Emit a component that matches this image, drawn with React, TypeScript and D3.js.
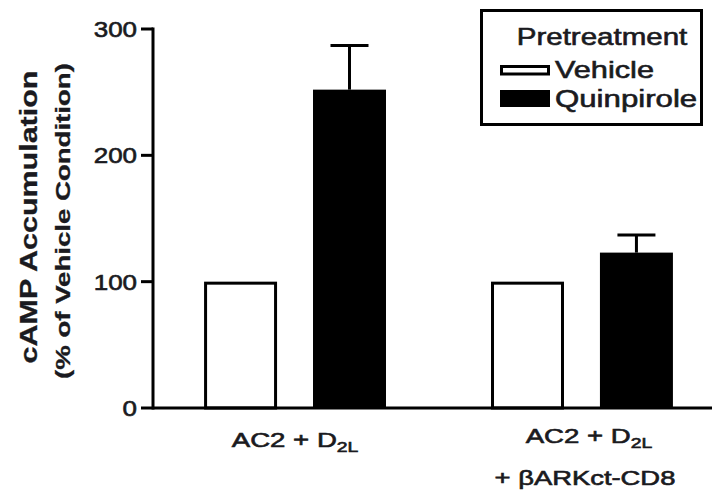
import React from "react";
import * as d3 from "d3";

const groups = ["AC2 + D2L", "AC2 + D2L + βARKct-CD8"];
const series = ["Vehicle", "Quinpirole"];
const vehicleMeans = [100, 100];
const vehicleErr = [0, 0];
const quinpiroleMeans = [252, 123];
const quinpiroleErr = [35, 14];
const yTicks = [0, 100, 200, 300];
const yLabel = "cAMP Accumulation";
const yLabel2 = "(% of Vehicle Condition)";
const legendTitle = "Pretreatment";

const W = 712;
const H = 493;
const FONT = "'Liberation Sans', Arial, Helvetica, sans-serif";

function SText(props: {
  x: number; y: number; sx?: number; rot?: number; size: number; anchor?: string;
  weight?: string | number; children: React.ReactNode; fill?: string; sw?: number;
}) {
  const { x, y, sx = 1.25, rot = 0, size, anchor = "start", weight = "normal", children, fill = "#1a1a20", sw = 0.6 } = props;
  return (
    <g transform={`translate(${x},${y}) rotate(${rot}) scale(${sx},1)`}>
      <text textAnchor={anchor as any} fontSize={size} fontFamily={FONT} fontWeight={weight} fill={fill}
        stroke={fill} strokeWidth={sw}>
        {children}
      </text>
    </g>
  );
}

export default function App() {
  const y = d3.scaleLinear().domain([0, 300]).range([408, 29]);
  const x0 = d3.scaleBand<string>().domain(groups).range([153, 724]).paddingInner(0.366).paddingOuter(0.178);
  const x1 = d3.scaleBand<string>().domain(series).range([0, x0.bandwidth()]).paddingInner(0.33).paddingOuter(0);

  const data = groups.map((g, i) => ({
    g,
    vals: [
      { s: series[0], v: vehicleMeans[i], e: vehicleErr[i] },
      { s: series[1], v: quinpiroleMeans[i], e: quinpiroleErr[i] },
    ],
  }));

  const sw = 3;
  const capHalf = 19;

  return (
    <svg width={W} height={H} style={{ position: "absolute", left: 0, top: 0, background: "#fff" }}>
      <rect x={0} y={0} width={W} height={H} fill="#fff" />
      {/* bars */}
      {data.map((d) => (
        <g key={d.g} transform={`translate(${x0(d.g)},0)`}>
          {d.vals.map((b) => {
            const bx = x1(b.s)!;
            const bw = x1.bandwidth();
            const top = y(b.v);
            const cx = bx + bw / 2;
            const isVeh = b.s === "Vehicle";
            return (
              <g key={b.s}>
                {b.e > 0 && (
                  <g stroke="#000" strokeWidth={sw}>
                    <line x1={cx} x2={cx} y1={top} y2={y(b.v + b.e)} />
                    <line x1={cx - capHalf} x2={cx + capHalf} y1={y(b.v + b.e)} y2={y(b.v + b.e)} />
                  </g>
                )}
                {isVeh ? (
                  <rect x={bx + sw / 2} y={top + sw / 2} width={bw - sw} height={y(0) - top - sw / 2}
                    fill="#fff" stroke="#000" strokeWidth={sw} />
                ) : (
                  <rect x={bx} y={top} width={bw} height={y(0) - top} fill="#000" />
                )}
              </g>
            );
          })}
        </g>
      ))}

      {/* axes */}
      <line x1={153} x2={153} y1={y(300) - 1.5} y2={y(0) + 1.5} stroke="#000" strokeWidth={sw} />
      <line x1={153} x2={W} y1={y(0)} y2={y(0)} stroke="#000" strokeWidth={sw} />
      {yTicks.map((t) => (
        <g key={t}>
          <line x1={141} x2={153} y1={y(t)} y2={y(t)} stroke="#000" strokeWidth={sw} />
          <SText x={137} y={y(t) + 8} size={22} anchor="end" sx={1.18}>{t}</SText>
        </g>
      ))}

      {/* y labels */}
      <SText x={37} y={217} rot={-90} size={24} anchor="middle" weight="bold" sx={1.27} sw={0.3}>{yLabel}</SText>
      <SText x={70} y={221} rot={-90} size={20} anchor="middle" weight="bold" sx={1.38} sw={0.3}>{yLabel2}</SText>

      {/* x labels */}
      <SText x={x0(groups[0])! + x0.bandwidth() / 2} y={447} size={20} anchor="middle" sx={1.38}>
        AC2 + D<tspan fontSize={14} dy={5}>2L</tspan>
      </SText>
      <SText x={x0(groups[1])! + x0.bandwidth() / 2 + 7} y={443} size={20} anchor="middle" sx={1.38}>
        AC2 + D<tspan fontSize={14} dy={5}>2L</tspan>
      </SText>
      <SText x={x0(groups[1])! + x0.bandwidth() / 2 + 3} y={485} size={20} anchor="middle" sx={1.37}>
        + βARKct-CD8
      </SText>

      {/* legend */}
      <rect x={481.5} y={10.5} width={220} height={114} fill="#fff" stroke="#000" strokeWidth={sw} />
      <SText x={602} y={45} size={24} anchor="middle" sx={1.23}>{legendTitle}</SText>
      <rect x={501.5} y={66.5} width={47} height={7.5} fill="#fff" stroke="#000" strokeWidth={sw} />
      <SText x={555} y={78} size={24} sx={1.28}>{series[0]}</SText>
      <rect x={500} y={90} width={50} height={17} fill="#000" />
      <SText x={555} y={107} size={24} sx={1.3}>{series[1]}</SText>
    </svg>
  );
}
